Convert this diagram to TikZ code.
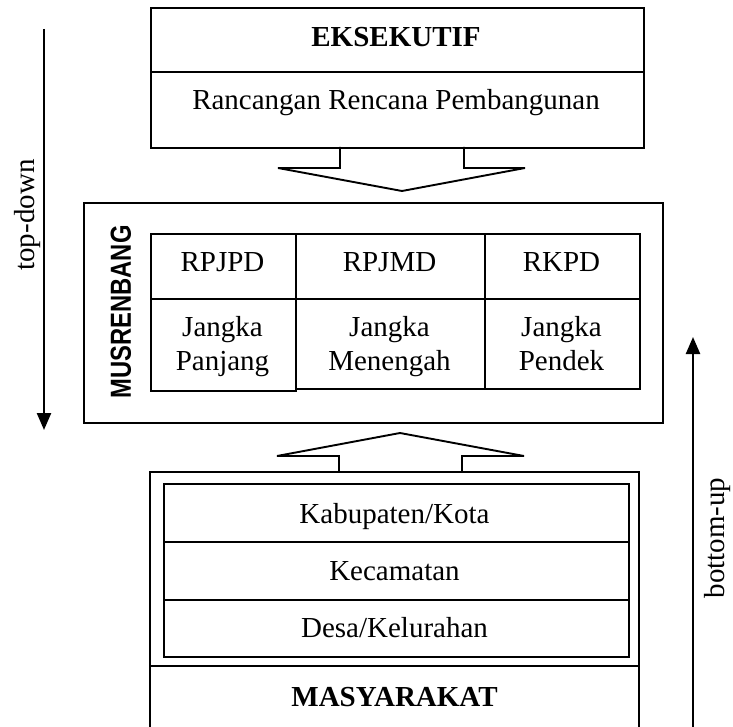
\documentclass[tikz,border=0pt]{standalone}
\usepackage{fontspec}
\setmainfont{Liberation Serif}
\newfontfamily\musfont[FakeStretch=0.82]{Liberation Sans}
\usetikzlibrary{arrows.meta}
\begin{document}
\begin{tikzpicture}[x=1pt,y=-1pt,
  frame/.style={draw, line width=1.9pt, inner sep=0pt, anchor=north west},
  rule/.style={line width=1.9pt},
  txt/.style={font=\fontsize{29}{33}\selectfont, inner sep=0pt, anchor=base},
  btxt/.style={font=\fontsize{29}{33}\selectfont\bfseries, inner sep=0pt, anchor=base},
  blockarrow/.style={line width=1.9pt, line join=miter},
  sidearrow/.style={line width=2.4pt, -{Triangle[length=17pt,width=14pt]}}]
\useasboundingbox (0,0) rectangle (733,727);

% EKSEKUTIF box
\node[frame, minimum width=493pt, minimum height=140pt] (exec) at (150,7) {};
\draw[rule] (150,72) -- (643,72);
\node[btxt] (eksekutif) at (396,47) {EKSEKUTIF};
\node[txt] (rancangan) at (396,110) {Rancangan Rencana Pembangunan};

% down block arrow
\draw[blockarrow] (340,147) -- (340,168) -- (278,168) -- (402,191) -- (525,168) -- (464,168) -- (464,147);

% MUSRENBANG box
\node[frame, minimum width=579pt, minimum height=220pt] (musren) at (83,202) {};
\node[font=\musfont\fontsize{29}{33}\selectfont\bfseries, rotate=90, inner sep=0pt] (musrenbang) at (121,312) {MUSRENBANG};

\node[frame, minimum width=145pt, minimum height=65pt] (c11) at (150,233) {};
\node[frame, minimum width=145pt, minimum height=92pt] (c21) at (150,298) {};
\node[frame, minimum width=189pt, minimum height=65pt] (c12) at (295,233) {};
\node[frame, minimum width=189pt, minimum height=90pt] (c22) at (295,298) {};
\node[frame, minimum width=155pt, minimum height=65pt] (c13) at (484,233) {};
\node[frame, minimum width=155pt, minimum height=90pt] (c23) at (484,298) {};

\node[txt] (rpjpd) at (222.5,272) {RPJPD};
\node[txt] (rpjmd) at (389.5,272) {RPJMD};
\node[txt] (rkpd) at (561.5,272) {RKPD};
\node[txt] (j1a) at (222.5,336) {Jangka};
\node[txt] (j1b) at (222.5,370) {Panjang};
\node[txt] (j2a) at (389.5,336) {Jangka};
\node[txt] (j2b) at (389.5,370) {Menengah};
\node[txt] (j3a) at (561.5,336) {Jangka};
\node[txt] (j3b) at (561.5,370) {Pendek};

% up block arrow
\draw[blockarrow] (339,472) -- (339,456) -- (277,456) -- (400,433) -- (524,456) -- (462,456) -- (462,472);

% MASYARAKAT box (open at the bottom edge)
\draw[rule] (150,735) -- (150,472) -- (639,472) -- (639,735);
\node[frame, minimum width=465pt, minimum height=173pt] (levels) at (163,483) {};
\draw[rule] (163,542) -- (628,542);
\draw[rule] (163,600) -- (628,600);
\draw[rule] (150,666) -- (639,666);
\node[txt] (kab) at (394.5,523) {Kabupaten/Kota};
\node[txt] (kec) at (394.5,580) {Kecamatan};
\node[txt] (desa) at (394.5,637) {Desa/Kelurahan};
\node[btxt] (masy) at (394.5,706) {MASYARAKAT};

% side arrows
\coordinate (tdstart) at (44,29);
\coordinate (tdend) at (44,430);
\draw[sidearrow] (tdstart) -- (tdend);
\node[font=\fontsize{29}{33}\selectfont, rotate=90, inner sep=0pt] (topdown) at (28,215) {top-down};

\coordinate (bustart) at (693,730);
\coordinate (buend) at (693,337);
\draw[sidearrow] (bustart) -- (buend);
\node[font=\fontsize{29}{33}\selectfont, rotate=90, inner sep=0pt] (bottomup) at (718,538) {bottom-up};
\end{tikzpicture}
\end{document}
